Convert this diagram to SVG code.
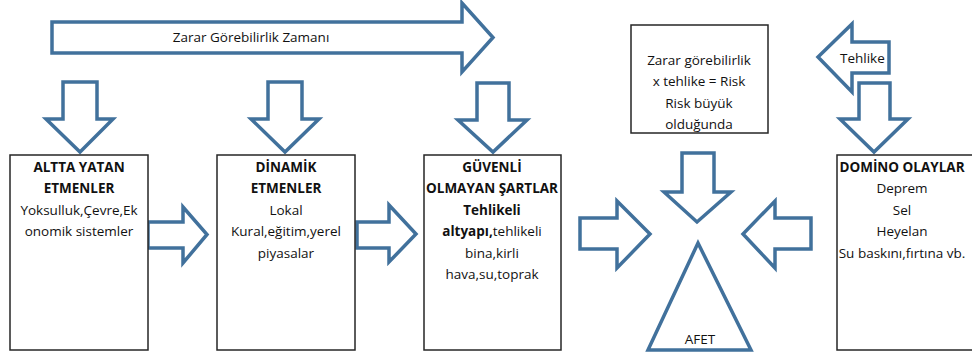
<svg xmlns="http://www.w3.org/2000/svg" width="972" height="358" viewBox="0 0 972 358">
  <style>
    .blk { fill: #ffffff; stroke: #41719c; stroke-width: 3.5; stroke-linejoin: miter; }
    .box { fill: #ffffff; stroke: #262626; stroke-width: 1.5; }
    text { font-family: "Open Sans", "Liberation Sans", sans-serif; font-size: 13.5px; fill: #111111; text-anchor: middle; }
    .b { font-weight: bold; }
  </style>
  <defs>
    <clipPath id="tehlikeClip">
      <rect x="818" y="20" width="70" height="75"/>
    </clipPath>
  </defs>
  <rect width="972" height="358" fill="#ffffff"/>

  <!-- timeline arrow -->
  <g id="zaman">
    <polygon class="blk" points="52,22 462,22 462,3 493,37.5 462,72 462,53 52,53"/>
    <text x="251" y="42">Zarar Görebilirlik Zamanı</text>
  </g>

  <!-- hazard arrow -->
  <g id="tehlike">
    <polygon class="blk" points="889,42 852,42 852,24 818,57 852,92 852,73 889,73"/>
    <text x="840" y="63" style="text-anchor:start" clip-path="url(#tehlikeClip)">Tehlike</text>
  </g>

  <!-- block-arrow connectors -->
  <g id="connectors">
    <polygon class="blk" points="63,82 97,82 97,119 113,119 80,152 46,119 63,119"/>
    <polygon class="blk" points="268,82 302,82 302,119 319,119 285,152 251,119 268,119"/>
    <polygon class="blk" points="477,83 509,83 509,120 527,120 493,152 458,120 477,120"/>
    <polygon class="blk" points="859,83 890,83 890,119 908,119 874,152 840,119 859,119"/>
    <polygon class="blk" points="148,222 183,222 183,207 207,234.5 183,263 183,248 148,248"/>
    <polygon class="blk" points="357,222 389,222 389,205 416,234 389,262 389,248 357,248"/>
    <polygon class="blk" points="580,218 617,218 617,201 650,234 617,268 617,249 580,249"/>
    <polygon class="blk" points="811,218 775,218 775,201 743,234 775,268 775,249 811,249"/>
    <polygon class="blk" points="682,153 714,153 714,192 731,192 697,222 664,192 682,192"/>
  </g>

  <g id="altta-yatan">
    <rect class="box" x="10" y="155" width="138" height="195"/>
    <text x="79" y="172" class="b">ALTTA YATAN</text>
    <text x="79" y="193" class="b">ETMENLER</text>
    <text x="79" y="215">Yoksulluk,Çevre,Ek</text>
    <text x="79" y="236">onomik sistemler</text>
  </g>

  <g id="dinamik">
    <rect class="box" x="217" y="155" width="138" height="195"/>
    <text x="286" y="172" class="b">DİNAMİK</text>
    <text x="286" y="193" class="b">ETMENLER</text>
    <text x="286" y="215">Lokal</text>
    <text x="286" y="236">Kural,eğitim,yerel</text>
    <text x="286" y="258">piyasalar</text>
  </g>

  <g id="guvenli-olmayan">
    <rect class="box" x="424" y="155" width="137" height="195"/>
    <text x="492" y="172" class="b">GÜVENLİ</text>
    <text x="492" y="193" class="b">OLMAYAN ŞARTLAR</text>
    <text x="492" y="215" class="b">Tehlikeli</text>
    <text x="492" y="236"><tspan class="b">altyapı,</tspan>tehlikeli</text>
    <text x="492" y="258">bina,kirli</text>
    <text x="492" y="279">hava,su,toprak</text>
  </g>

  <g id="risk">
    <rect class="box" x="631" y="25" width="137" height="108"/>
    <text x="699" y="65">Zarar görebilirlik</text>
    <text x="699" y="86">x tehlike = Risk</text>
    <text x="699" y="108">Risk büyük</text>
    <text x="699" y="129">olduğunda</text>
  </g>

  <g id="afet">
    <polygon class="blk" points="698,243 751,350 648,350"/>
    <text x="700" y="344">AFET</text>
  </g>

  <g id="domino">
    <rect class="box" x="837" y="155" width="140" height="195"/>
    <text x="902" y="172" class="b">DOMİNO OLAYLAR</text>
    <text x="902" y="193">Deprem</text>
    <text x="902" y="215">Sel</text>
    <text x="902" y="236">Heyelan</text>
    <text x="902" y="258">Su baskını,fırtına vb.</text>
  </g>
</svg>
